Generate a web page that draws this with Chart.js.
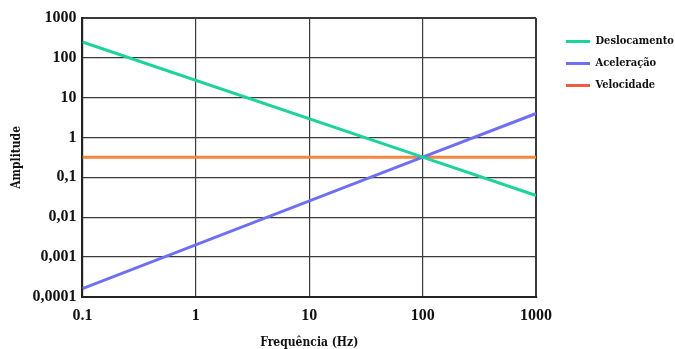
<!DOCTYPE html>
<html>
<head>
<meta charset="utf-8">
<script src="https://cdn.jsdelivr.net/npm/chart.js@4.4.0/dist/chart.umd.min.js"></script>
<style>
	html, body { margin: 0; padding: 0; background: #fff; }
	#wrap { width: 675px; height: 349px; }
</style>
</head>
<body>
<div id="wrap"><canvas id="ampChart" width="675" height="349"></canvas></div>
<script>
	"use strict";

	let freq = [0.1, 100, 1000];
	let deslocamento = [250, 0.32, 0.035];
	let aceleracao = [0.00016, 0.32, 4];
	let velocidade = [0.32, 0.32, 0.32];

	let x_ticks = [0.1, 1, 10, 100, 1000];
	let x_labels = ["0.1", "1", "10", "100", "1000"];
	let y_ticks = [0.0001, 0.001, 0.01, 0.1, 1, 10, 100, 1000];
	let y_labels = ["0,0001", "0,001", "0,01", "0,1", "1", "10", "100", "1000"];

	const serif = "'Liberation Serif', 'Times New Roman', serif";
	const cond = "'DejaVu Serif Condensed', 'DejaVu Serif', serif";
	const legend_swatch = ["#1dd39c", "#6f6ff2", "#f25c3e"];

	function points(ys) {
		return freq.map((f, i) => ({ x: f, y: ys[i] }));
	}

	function gridWidth(ctx) {
		return ctx.index === ctx.chart.scales[ctx.scale.id].ticks.length - 1 ? 2 : 1.2;
	}

	// move the legend to where it sits in the original
	const legendPlace = {
		id: "legendPlace",
		afterLayout(chart) {
			let lg = chart.legend;
			let w = lg.right - lg.left;
			let h = lg.bottom - lg.top;
			lg.left = 555;
			lg.top = 25;
			lg.right = lg.left + w;
			lg.bottom = lg.top + h;
		},
	};

	let ctx = document.getElementById("ampChart").getContext("2d");
	new Chart(ctx, {
		type: "line",
		data: {
			datasets: [
				{
					label: "Deslocamento",
					data: points(deslocamento),
					borderColor: "#1dd39c",
					backgroundColor: "#1dd39c",
					borderWidth: 3,
				},
				{
					label: "Aceleração",
					data: points(aceleracao),
					borderColor: "#6f6ff2",
					backgroundColor: "#6f6ff2",
					borderWidth: 3,
				},
				{
					label: "Velocidade",
					data: points(velocidade),
					borderColor: "#f5863f",
					backgroundColor: "#f5863f",
					borderWidth: 3,
				},
			],
		},
		plugins: [legendPlace],
		options: {
			responsive: false,
			animation: false,
			elements: { point: { radius: 0 }, line: { tension: 0 } },
			layout: { padding: { top: 18, right: 10, left: 10, bottom: 0 } },
			plugins: {
				tooltip: { enabled: false },
				legend: {
					position: "right",
					align: "start",
					labels: {
						boxWidth: 24,
						boxHeight: 3,
						padding: 11,
						color: "#111",
						font: { family: cond, size: 11, weight: "bold" },
						generateLabels: (chart) =>
							Chart.defaults.plugins.legend.labels
								.generateLabels(chart)
								.map((l, i) => ({ ...l, lineWidth: 0, fillStyle: legend_swatch[i] })),
					},
				},
			},
			scales: {
				x: {
					type: "logarithmic",
					min: 0.1,
					max: 1000,
					afterBuildTicks: (axis) => {
						axis.ticks = x_ticks.map((v) => ({ value: v }));
					},
					ticks: {
						autoSkip: false,
						maxRotation: 0,
						padding: 9,
						color: "#111",
						font: { family: serif, size: 16, weight: "bold" },
						callback: (value, index) => x_labels[index],
					},
					grid: { color: "#3a3a3a", lineWidth: gridWidth, drawTicks: false },
					border: { display: true, color: "#222", width: 2 },
					title: {
						display: true,
						text: "Frequência (Hz)",
						color: "#111",
						padding: { top: 3, bottom: 0 },
						font: { family: cond, size: 12, weight: "bold", lineHeight: 1 },
					},
				},
				y: {
					type: "logarithmic",
					min: 0.0001,
					max: 1000,
					afterBuildTicks: (axis) => {
						axis.ticks = y_ticks.map((v) => ({ value: v }));
					},
					ticks: {
						autoSkip: false,
						padding: 6,
						color: "#111",
						font: { family: serif, size: 16, weight: "bold" },
						callback: (value, index) => y_labels[index],
					},
					grid: { color: "#3a3a3a", lineWidth: gridWidth, drawTicks: false },
					border: { display: true, color: "#222", width: 2 },
					title: {
						display: true,
						text: "Amplitude",
						color: "#111",
						padding: { top: 0, bottom: 2 },
						font: { family: cond, size: 12, weight: "bold" },
					},
				},
			},
		},
	});
</script>
</body>
</html>
